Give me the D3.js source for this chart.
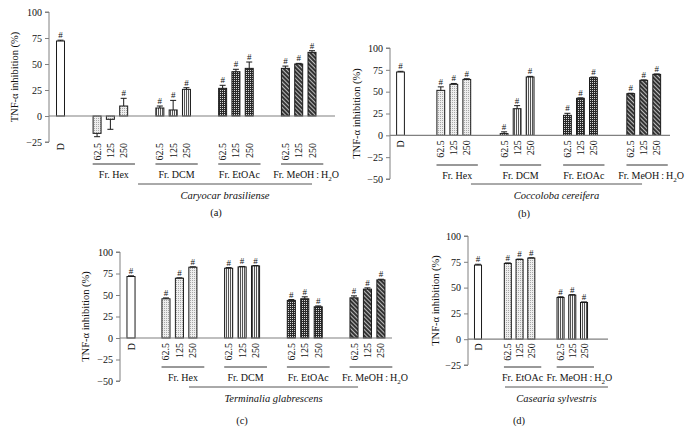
<!DOCTYPE html>
<html><head><meta charset="utf-8">
<script src="https://cdn.jsdelivr.net/npm/d3@7"></script>
<style>
html,body{margin:0;padding:0;background:#fff;}
svg{display:block;}
text{font-family:"Liberation Serif","Times New Roman",serif;fill:#111;}
</style></head>
<body>
<svg id="chart" width="697" height="431"></svg>
<script>
// ---------- DATA ----------
const doses = ["62.5", "125", "250"];
const groupsABC = ["Fr. Hex", "Fr. DCM", "Fr. EtOAc", "Fr. MeOH : H2O"];
const groupsD = ["Fr. EtOAc", "Fr. MeOH : H2O"];
const species = ["Caryocar brasiliense", "Coccoloba cereifera", "Terminalia glabrescens", "Casearia sylvestris"];
const panelLetters = ["(a)", "(b)", "(c)", "(d)"];
const drugLabel = "D";
const drugValues = [72.1, 72.5, 71.5, 71.8];
const drugErrors = [0.8, 0.8, 0.8, 0.8];

const valuesA = [[-16.7, -3.2, 9.6], [7.7, 5.8, 25.6], [26.6, 42.6, 45.8], [45.8, 50.0, 61.2]];
const errorsA = [[3.2, 9.6, 7.4], [1.9, 9.2, 1.6], [2.9, 2.3, 6.1], [2.2, 0.6, 1.6]];
const sigA = [[false, false, true], [true, true, true], [true, true, true], [true, true, true]];

const valuesB = [[51.5, 58.4, 64.0], [2.0, 30.5, 66.8], [22.9, 42.4, 66.0], [47.7, 63.0, 69.8]];
const errorsB = [[4.0, 1.0, 0.8], [2.0, 3.5, 0.7], [2.3, 0.5, 0.7], [0.5, 0.5, 0.5]];
const sigB = [[true, true, true], [true, true, true], [true, true, true], [true, true, true]];

const valuesC = [[45.6, 69.5, 82.3], [81.1, 82.7, 83.8], [43.7, 45.6, 36.3], [46.7, 56.8, 67.6]];
const errorsC = [[1.0, 0.5, 0.5], [0.8, 0.5, 0.5], [1.0, 2.3, 1.0], [2.3, 1.5, 0.7]];
const sigC = [[true, true, true], [true, true, true], [true, true, true], [true, true, true]];

const valuesD = [[73.4, 77.3, 78.6], [40.4, 42.7, 35.6]];
const errorsD = [[0.5, 0.3, 0.3], [0.7, 0.5, 0.5]];
const sigD = [[true, true, true], [true, true, true]];

const yTicksShort = [-25, 0, 25, 50, 75, 100];
const yTicksLong = [-50, -25, 0, 25, 50, 75, 100];
const yTitle = "TNF-\u03B1 inhibition (%)";

// ---------- STYLE / LAYOUT ----------
const patternsABC = ["pDots", "pVert", "pCheck", "pDiag"];
const patternsD = ["pDots", "pVert"];

const panels = [
  {groups: groupsABC, values: valuesA, errors: errorsA, sig: sigA, pats: patternsABC, idx: 0, ticks: yTicksShort,
   axisX: 49, axisEnd: 335, yTop: 12, yBottom: 142, yMin: -25, yMax: 100,
   dCenter: 60.5, slotPx: 13.3, firstGap: 2.75, groupStep: 4.72,
   labelAt: -25, labelOffset: 1, underY: 164, groupY: 178, spLineY: 184, spSlots: [5.83, 18.91], spY: 199,
   letterX: 216, letterY: 216, titleX: 14},
  {groups: groupsABC, values: valuesB, errors: errorsB, sig: sigB, pats: patternsABC, idx: 1, ticks: yTicksLong,
   axisX: 390, axisEnd: 670, yTop: 48, yBottom: 179, yMin: -50, yMax: 100,
   dCenter: 400.5, slotPx: 13.0, firstGap: 3.1, groupStep: 4.87,
   labelAt: 0, labelOffset: 5, underY: 165, groupY: 179, spLineY: 184, spSlots: [5.42, 18.58], spY: 199,
   letterX: 524, letterY: 217, titleX: 356},
  {groups: groupsABC, values: valuesC, errors: errorsC, sig: sigC, pats: patternsABC, idx: 2, ticks: yTicksLong,
   axisX: 120, axisEnd: 392, yTop: 252, yBottom: 381, yMin: -50, yMax: 100,
   dCenter: 131, slotPx: 13.45, firstGap: 2.6, groupStep: 4.66,
   labelAt: 0, labelOffset: 5, underY: 367, groupY: 381, spLineY: 387, spSlots: [4.31, 16.88], spY: 402,
   letterX: 242, letterY: 424, titleX: 85},
  {groups: groupsD, values: valuesD, errors: errorsD, sig: sigD, pats: patternsD, idx: 3, ticks: yTicksShort,
   axisX: 468, axisEnd: 608, yTop: 236, yBottom: 365, yMin: -25, yMax: 100,
   dCenter: 478, slotPx: 11.74, firstGap: 2.54, groupStep: 4.49,
   labelAt: 0, labelOffset: 4, underY: 367, groupY: 381, spLineY: 387, spSlots: [2.3, 11.07], spY: 402,
   letterX: 519, letterY: 424, titleX: 435}
];

const svg = d3.select("#chart");
const defs = svg.append("defs");

const p1 = defs.append("pattern").attr("id", "pDots").attr("patternUnits", "userSpaceOnUse").attr("width", 2).attr("height", 2);
p1.append("rect").attr("width", 2).attr("height", 2).attr("fill", "#eeeeee");
p1.append("rect").attr("width", 1).attr("height", 1).attr("fill", "#a8a8a8");
const p2 = defs.append("pattern").attr("id", "pVert").attr("patternUnits", "userSpaceOnUse").attr("width", 2).attr("height", 2);
p2.append("rect").attr("width", 2).attr("height", 2).attr("fill", "#f4f4f4");
p2.append("rect").attr("width", 1).attr("height", 2).attr("fill", "#555");
const p3 = defs.append("pattern").attr("id", "pCheck").attr("patternUnits", "userSpaceOnUse").attr("width", 2).attr("height", 2);
p3.append("rect").attr("width", 2).attr("height", 2).attr("fill", "#2a2a2a");
p3.append("rect").attr("width", 1).attr("height", 1).attr("fill", "#d8d8d8");
const p4 = defs.append("pattern").attr("id", "pDiag").attr("patternUnits", "userSpaceOnUse").attr("width", 3).attr("height", 3)
  .attr("patternTransform", "rotate(-45)");
p4.append("rect").attr("width", 3).attr("height", 3).attr("fill", "#333");
p4.append("rect").attr("width", 1).attr("height", 3).attr("fill", "#bbb");

const axisColor = "#808080";

panels.forEach(P => {
  const g = svg.append("g");
  const y = d3.scaleLinear().domain([P.yMin, P.yMax]).range([P.yBottom, P.yTop]);
  const x = d3.scaleLinear().domain([0, 1]).range([P.dCenter, P.dCenter + P.slotPx]);
  const slotOf = (gi, j) => P.firstGap + gi * P.groupStep + j;
  const bw = P.slotPx * 0.6;

  const bars = [{label: drugLabel, slot: 0, value: drugValues[P.idx], err: drugErrors[P.idx], sig: true, fill: "#fff"}];
  P.groups.forEach((gn, gi) => {
    doses.forEach((ds, j) => {
      bars.push({label: ds, slot: slotOf(gi, j), value: P.values[gi][j], err: P.errors[gi][j], sig: P.sig[gi][j], fill: "url(#" + P.pats[gi] + ")"});
    });
  });

  const yAxis = d3.axisLeft(y).tickValues(P.ticks).tickSize(4).tickPadding(3).tickFormat(d => d < 0 ? "\u2212" + Math.abs(d) : d);
  const ya = g.append("g").attr("transform", `translate(${P.axisX},0)`).call(yAxis);
  ya.select(".domain").attr("stroke", axisColor).attr("d", `M-4,${P.yBottom}H0V${P.yTop}H-4`);
  ya.selectAll(".tick line").attr("stroke", axisColor);
  ya.selectAll(".tick text").attr("font-size", 10).attr("font-family", '"Liberation Serif",serif').attr("fill", "#111");

  g.selectAll("rect.bar").data(bars).join("rect").attr("class", "bar")
    .attr("x", d => x(d.slot) - bw / 2).attr("width", bw)
    .attr("y", d => y(Math.max(0, d.value))).attr("height", d => Math.abs(y(d.value) - y(0)))
    .attr("fill", d => d.fill).attr("stroke", "#1a1a1a").attr("stroke-width", 1);

  const eb = g.selectAll("g.err").data(bars).join("g").attr("class", "err");
  const tip = d => d.value >= 0 ? d.value + d.err : d.value - d.err;
  eb.append("line").attr("x1", d => x(d.slot)).attr("x2", d => x(d.slot))
    .attr("y1", d => y(d.value)).attr("y2", d => y(tip(d))).attr("stroke", "#1a1a1a").attr("stroke-width", 1);
  eb.append("line").attr("x1", d => x(d.slot) - 3).attr("x2", d => x(d.slot) + 3)
    .attr("y1", d => y(tip(d))).attr("y2", d => y(tip(d))).attr("stroke", "#1a1a1a").attr("stroke-width", 1);

  g.selectAll("text.sig").data(bars.filter(d => d.sig)).join("text").attr("class", "sig")
    .attr("x", d => x(d.slot)).attr("y", d => y(Math.max(d.value, tip(d))) - 2)
    .attr("text-anchor", "middle").attr("font-size", 9).text("#");

  g.append("line").attr("x1", P.axisX).attr("x2", P.axisEnd).attr("y1", y(0)).attr("y2", y(0))
    .attr("stroke", axisColor).attr("stroke-width", 1.2);

  const labelTop = y(P.labelAt) + P.labelOffset;
  g.selectAll("text.cat").data(bars).join("text").attr("class", "cat")
    .attr("transform", d => `translate(${x(d.slot)},${labelTop}) rotate(-90)`)
    .attr("text-anchor", "end").attr("dominant-baseline", "central").attr("font-size", 10).text(d => d.label);

  P.groups.forEach((gn, gi) => {
    const s0 = slotOf(gi, 0), s2 = slotOf(gi, 2);
    const xa = x(s0 - 0.33), xb = x(s2 + 0.85);
    g.append("line").attr("x1", xa).attr("x2", xb).attr("y1", P.underY).attr("y2", P.underY)
      .attr("stroke", "#333").attr("stroke-width", 1);
    const isMeoh = gn.endsWith("H2O");
    const t = g.append("text").attr("x", (xa + xb) / 2 + (isMeoh ? 4 : 0)).attr("y", P.groupY).attr("text-anchor", "middle").attr("font-size", 10);
    if (isMeoh) {
      t.append("tspan").text("Fr. MeOH\u2009:\u2009H");
      t.append("tspan").attr("font-size", 7).attr("dy", 2.5).text("2");
      t.append("tspan").attr("dy", -2.5).text("O");
    } else {
      t.text(gn);
    }
  });

  const sx0 = x(P.spSlots[0]), sx1 = x(P.spSlots[1]);
  g.append("line").attr("x1", sx0).attr("x2", sx1).attr("y1", P.spLineY).attr("y2", P.spLineY)
    .attr("stroke", "#555").attr("stroke-width", 1);
  g.append("text").attr("x", (sx0 + sx1) / 2).attr("y", P.spY).attr("text-anchor", "middle")
    .attr("font-style", "italic").attr("font-size", 10.5).text(species[P.idx]);

  g.append("text").attr("x", P.letterX).attr("y", P.letterY).attr("text-anchor", "middle").attr("font-size", 10.5).text(panelLetters[P.idx]);

  g.append("text").attr("transform", `translate(${P.titleX},${(P.yTop + P.yBottom) / 2}) rotate(-90)`)
    .attr("text-anchor", "middle").attr("dominant-baseline", "central").attr("font-size", 10.5).text(yTitle);
});
</script>
</body></html>
